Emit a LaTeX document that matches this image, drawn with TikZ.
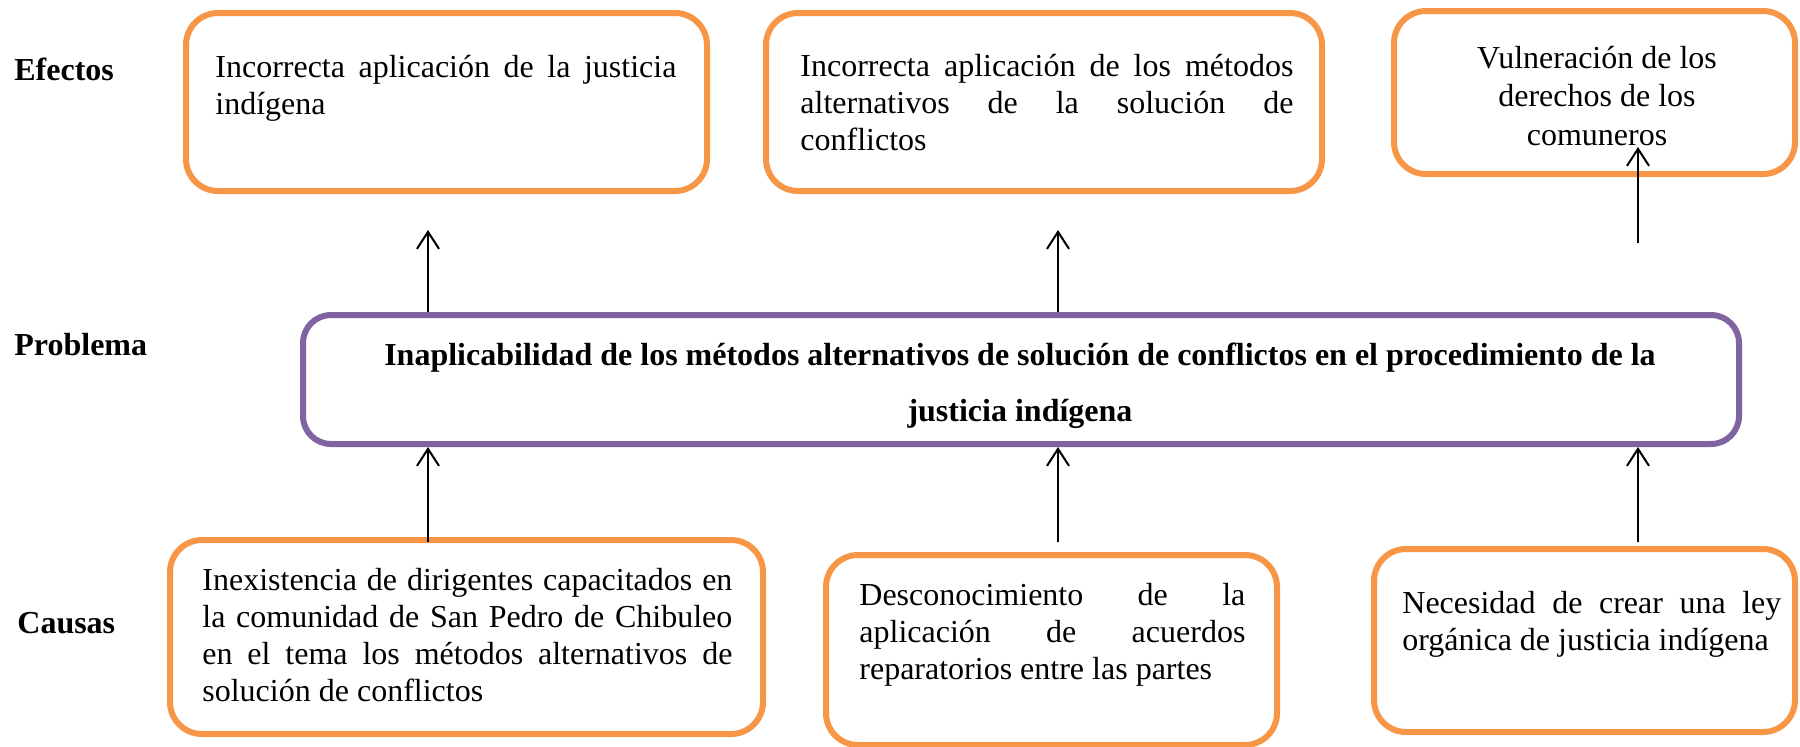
\documentclass[tikz,border=0pt]{standalone}
\usepackage{fontspec}
\setmainfont{Liberation Serif}
\usetikzlibrary{arrows.meta}
\definecolor{boxorange}{HTML}{F79646}
\definecolor{boxpurple}{HTML}{8064A2}
\tikzset{
  obox/.style={draw=boxorange, line width=3pt, rounded corners=16pt, fill=white, inner sep=0pt},
  pbox/.style={draw=boxpurple, line width=3pt, rounded corners=14pt, fill=white, inner sep=0pt},
  txt/.style={inner sep=0pt, anchor=base west, align=justify, font=\fontsize{16pt}{18.5pt}\selectfont},
  ctxt/.style={inner sep=0pt, anchor=base, align=center, font=\fontsize{16pt}{19.2pt}\selectfont},
  lbl/.style={inner sep=0pt, anchor=base west, font=\fontsize{16pt}{18pt}\selectfont\bfseries},
  arr/.style={draw=black, line width=1pt, -{Straight Barb[length=8.5pt,width=11pt]}}
}
\begin{document}
\begin{tikzpicture}[x=0.5pt,y=-0.5pt]
\useasboundingbox (0,0) rectangle (1800,746);
% boxes
\node[obox, minimum width=260.5pt, minimum height=89pt] (e1) at (446.5,102) {};
\node[obox, minimum width=278pt, minimum height=89pt] (e2) at (1044,102) {};
\node[obox, minimum width=200.5pt, minimum height=81.5pt] (e3) at (1594.5,92.5) {};
\node[pbox, minimum width=718pt, minimum height=64.5pt] (p) at (1021,379.5) {};
\node[obox, minimum width=296.5pt, minimum height=97pt] (c1) at (466.5,637) {};
\node[obox, minimum width=225.5pt, minimum height=95pt] (c2) at (1051.5,650) {};
\node[obox, minimum width=210.5pt, minimum height=91.5pt] (c3) at (1584.5,640.5) {};
% labels
\node[lbl] (lef) at (14,80) {Efectos};
\node[lbl] (lpr) at (14,355) {Problema};
\node[lbl] (lca) at (17,633) {Causas};
% texts
\node[txt, text width=230.5pt, font=\fontsize{16pt}{18.6pt}\selectfont] (te1) at (215,77) {Incorrecta aplicación de la justicia\linebreak indígena};
\node[txt, text width=246.5pt, font=\fontsize{16pt}{18.6pt}\selectfont] (te2) at (800,76) {Incorrecta aplicación de los métodos\linebreak alternativos de la solución de\linebreak conflictos};
\node[ctxt] (te3) at (1597,145) {Vulneración de los\\derechos de los\\comuneros};
\node[inner sep=0pt, anchor=base, align=center, font=\fontsize{16pt}{28pt}\selectfont\bfseries] (tp) at (1020,421) {Inaplicabilidad de los métodos alternativos de solución de conflictos en el procedimiento de la\\justicia indígena};
\node[txt, text width=265pt] (tc1) at (202,590) {Inexistencia de dirigentes capacitados en\linebreak la comunidad de San Pedro de Chibuleo\linebreak en el tema los métodos alternativos de\linebreak solución de conflictos};
\node[txt, text width=193pt] (tc2) at (859,605) {Desconocimiento de la\linebreak aplicación de acuerdos\linebreak reparatorios entre las partes};
\node[txt, text width=189.5pt] (tc3) at (1402,613) {Necesidad de crear una ley\linebreak orgánica de justicia indígena};
% connector end points
\coordinate (t1) at (428,230);
\coordinate (t2) at (1058,230);
\coordinate (s3) at (1638,243);
\coordinate (t3) at (1638,147);
\coordinate (b1) at (428,542);
\coordinate (b2) at (1058,542);
\coordinate (b3) at (1638,542);
% connectors
\draw[arr] (p.north -| t1) -- (t1);
\draw[arr] (p.north -| t2) -- (t2);
\draw[arr] (s3) -- (t3);
\draw[arr] (b1) -- (p.south -| b1);
\draw[arr] (b2) -- (p.south -| b2);
\draw[arr] (b3) -- (p.south -| b3);
\end{tikzpicture}
\end{document}
